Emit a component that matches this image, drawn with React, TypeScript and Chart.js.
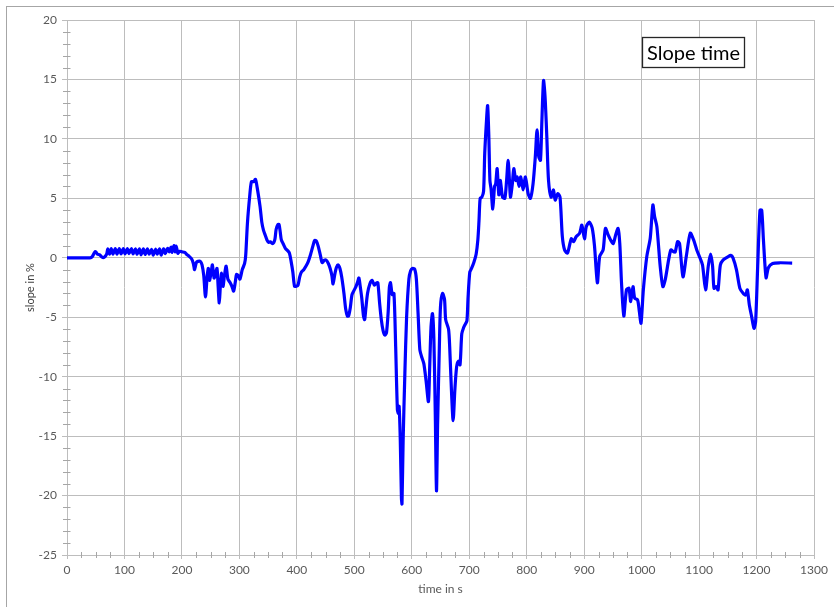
import React, { useEffect, useRef } from 'react';
import { Chart, registerables } from 'chart.js';

Chart.register(...registerables);

const chartTitle = 'Slope time';
const xAxisTitle = 'time in s';
const yAxisTitle = 'slope in %';

const xMin = 0;
const xMax = 1300;
const xStep = 100;
const yMin = -25;
const yMax = 20;
const yStep = 5;

const timeS = [
  0, 40, 44, 48, 50, 53, 57, 61, 65, 69,
  71, 74, 77, 80, 84, 87, 91, 94, 98, 101,
  105, 108, 112, 115, 119, 122, 126, 129, 133, 136,
  140, 143, 147, 150, 154, 157, 161, 164, 168, 171,
  175, 178, 181, 183, 186, 188, 190, 193, 196, 200,
  205, 208, 213, 217, 220, 222, 225, 228, 232, 235,
  238, 241, 244, 246, 248, 251, 253, 256, 258, 261,
  263, 265, 267, 269, 271.5, 274, 277, 280, 284, 287,
  290, 293, 295, 298, 301, 305, 309, 311, 314, 318,
  321, 325, 328, 331, 336, 339, 342, 345, 348, 351,
  354, 357, 360, 362, 364, 367, 369, 371, 373, 376,
  380, 384, 387, 390, 393, 396, 399, 402, 405, 408,
  412, 416, 420, 424, 428, 431, 434, 437, 441, 444,
  448, 451, 455, 458, 461, 463, 466, 469, 472, 475,
  478, 482, 485, 488, 490, 493, 496, 500, 503, 506,
  508, 510, 513, 516, 518, 520, 523, 527, 531, 535,
  539, 541, 544, 547, 550, 553, 556, 559, 561, 563,
  566, 569, 572, 575, 577, 578, 580, 582, 583, 585,
  588, 591, 595, 598, 601, 605, 608, 611, 614, 617,
  621, 625, 629, 631, 633.5, 636, 638.5, 641, 643, 645,
  648, 650, 653.5, 657, 659, 664, 666, 669, 672, 675,
  678, 681, 684, 687, 690, 693, 696, 698, 701, 704,
  708, 712, 715, 717, 719, 722, 725, 727, 730, 732,
  734, 736, 738, 741, 744, 746, 748.6, 751.5, 754, 756,
  758, 762, 765, 767.7, 770, 771.7, 775, 777.5, 781, 783.4,
  786.8, 789.7, 793.8, 797.8, 802.5, 806.5, 811, 815, 818, 821,
  824, 826.5, 829.3, 832, 835, 838, 842.5, 846.6, 849.5, 854,
  858, 862, 866, 871, 877.6, 881.6, 886, 892, 896, 900.6,
  903.6, 909, 914, 918, 923, 927, 933, 937, 942, 946,
  950.6, 954.7, 959, 962, 965, 969, 973.6, 978, 981, 985,
  988, 993, 996, 999, 1003, 1009, 1015, 1019.6, 1022.6, 1026.6,
  1032.4, 1037, 1041, 1047, 1051, 1055.6, 1058.5, 1062.6, 1066, 1072,
  1077.7, 1084.7, 1090.5, 1096, 1101.5, 1106, 1111.3, 1116, 1120, 1123.5,
  1126, 1130, 1133, 1137, 1142, 1150.7, 1155, 1159, 1165, 1171,
  1177, 1181, 1184, 1187.5, 1191.5, 1195.6, 1198.4, 1202, 1206, 1209,
  1212, 1216.6, 1220.6, 1228, 1241, 1262,
];

const slopePct = [
  0, 0, 0.1, 0.45, 0.5, 0.3, 0.25, 0.05, 0.05, 0.3,
  0.75, 0.3, 0.78, 0.3, 0.78, 0.3, 0.78, 0.32, 0.78, 0.32,
  0.78, 0.35, 0.78, 0.32, 0.75, 0.3, 0.75, 0.25, 0.75, 0.28,
  0.75, 0.3, 0.72, 0.22, 0.72, 0.3, 0.75, 0.22, 0.75, 0.35,
  0.78, 0.5, 0.9, 0.45, 1.02, 0.5, 0.98, 0.38, 0.55, 0.5,
  0.45, 0.3, 0.1, -0.1, -0.5, -1.0, -0.4, -0.3, -0.3, -0.6,
  -1.5, -3.3, -1.5, -0.9, -1.9, -1.2, -0.6, -1.7, -1.4, -0.9,
  -2.4, -3.8, -2.3, -1.3, -2.4, -1.5, -0.7, -1.8, -2.1, -2.4,
  -2.8, -2.0, -1.4, -1.5, -1.8, -1.0, -0.5, 0.2, 2.9, 5.2,
  6.4, 6.4, 6.6, 5.9, 4.3, 3.0, 2.3, 1.9, 1.5, 1.3,
  1.35, 1.2, 1.3, 1.6, 2.4, 2.8, 2.8, 2.2, 1.5, 1.2,
  0.8, 0.6, 0.4, -0.3, -1.2, -2.4, -2.4, -2.3, -1.6, -1.2,
  -1.0, -0.7, -0.3, 0.3, 1.0, 1.45, 1.4, 1.0, 0.2, -0.4,
  -0.2, -0.2, -0.5, -0.9, -1.5, -2.2, -1.4, -0.8, -0.6, -0.9,
  -1.6, -3.0, -4.3, -4.9, -4.9, -4.2, -3.1, -2.7, -2.4, -2.0,
  -1.7, -2.3, -3.4, -4.9, -5.2, -4.3, -3.0, -2.2, -1.9, -2.3,
  -2.1, -2.1, -3.8, -5.2, -6.1, -6.5, -6.3, -4.5, -2.5, -2.1,
  -3.1, -3.0, -7.5, -12.8, -13.1, -12.5, -15.3, -20.2, -20.7, -15.3,
  -9.7, -5.0, -1.8, -1.1, -0.9, -0.95, -1.8, -4.7, -7.7, -8.3,
  -8.9, -10.4, -12.1, -9.5, -5.8, -4.7, -6.9, -13.4, -19.6, -13.9,
  -7.5, -4.1, -3.0, -3.5, -5.2, -6.0, -7.5, -11.1, -13.7, -11.1,
  -9.2, -8.7, -9.0, -6.4, -5.9, -5.6, -5.3, -3.3, -1.2, -0.9,
  -0.4, 0.3, 1.5, 3.1, 5.0, 5.1, 5.6, 8.8, 11.5, 12.8,
  10.4, 6.5, 5.8, 4.1, 6.0, 6.2, 7.5, 5.3, 6.5, 5.8,
  5.1, 5.0, 6.5, 8.2, 6.5, 5.1, 6.2, 7.5, 6.5, 6.8,
  6.0, 6.8, 5.7, 6.8, 5.4, 5.0, 6.2, 8.5, 10.75, 8.5,
  8.2, 11.6, 14.9, 13.5, 10.2, 6.5, 5.1, 5.7, 4.85, 5.4,
  5.1, 1.8, 0.65, 0.4, 1.6, 1.35, 1.77, 2.05, 2.75, 1.6,
  2.6, 3.0, 2.5, 1.0, -2.1, 0.1, 0.66, 2.47, 1.9, 1.5,
  1.2, 1.9, 2.47, 1.2, -2.1, -4.9, -2.7, -2.57, -3.68, -2.43,
  -3.4, -3.55, -4.5, -5.5, -2.7, 0.1, 1.64, 4.44, 3.46, 2.6,
  -0.75, -2.43, -1.87, -0.18, 0.66, 0.5, 0.5, 1.36, 1.2, -1.6,
  0.1, 2.07, 1.5, 0.66, 0, -0.6, -2.7, -0.7, 0.3, -0.7,
  -2.57, -2.43, -2.7, -0.6, -0.18, 0.1, 0.2, 0.0, -1.0, -2.57,
  -3.0, -3.14, -2.7, -3.97, -4.95, -5.93, -5.37, -0.7, 4.0, 4.0,
  1.5, -1.68, -0.84, -0.48, -0.42, -0.45,
];

const FONT = 'Lato, "Open Sans", sans-serif';
const GRID = '#bdbdbd';
const TEXT = '#595959';

const decorPlugin = {
  id: 'decor',
  beforeDraw(chart: any) {
    const ctx = chart.ctx;
    ctx.save();
    ctx.fillStyle = '#ffffff';
    ctx.fillRect(0, 0, chart.width, chart.height);
    ctx.strokeStyle = '#a6a6a6';
    ctx.lineWidth = 1;
    ctx.strokeRect(6.5, 6.5, chart.width + 20, chart.height + 20);
    ctx.restore();
  },
  afterDraw(chart: any) {
    const ctx = chart.ctx;
    const { left, bottom } = chart.chartArea;
    const xs = chart.scales.x;
    const ys = chart.scales.y;
    ctx.save();
    ctx.strokeStyle = '#a6a6a6';
    ctx.lineWidth = 1;
    ctx.beginPath();
    for (let v = yMin; v <= yMax; v += 1) {
      if (v % yStep === 0) continue;
      const py = Math.round(ys.getPixelForValue(v)) + 0.5;
      ctx.moveTo(left - 4, py);
      ctx.lineTo(left + 3.5, py);
    }
    for (let t = xMin; t <= xMax; t += 25) {
      if (t % xStep === 0) continue;
      const px = Math.round(xs.getPixelForValue(t)) + 0.5;
      ctx.moveTo(px, bottom - 3);
      ctx.lineTo(px, bottom + 3);
    }
    ctx.stroke();

    // title box
    const bx = 642.5, by = 37.5, bw = 102, bh = 30;
    ctx.fillStyle = '#ffffff';
    ctx.fillRect(bx, by, bw, bh);
    ctx.strokeStyle = '#262626';
    ctx.lineWidth = 1.3;
    ctx.strokeRect(bx, by, bw, bh);
    ctx.fillStyle = '#000000';
    ctx.font = '20px ' + FONT;
    ctx.textAlign = 'center';
    ctx.textBaseline = 'middle';
    ctx.fillText(chartTitle, bx + bw / 2, by + bh / 2 + 1);
    ctx.restore();
  },
};

export default function App() {
  const ref = useRef<HTMLCanvasElement>(null);
  useEffect(() => {
    const canvas = ref.current as HTMLCanvasElement;
    const points = timeS.map((t, i) => ({ x: t, y: slopePct[i] }));
    const chart = new Chart(canvas, {
      type: 'line',
      data: {
        datasets: [
          {
            label: chartTitle,
            data: points,
            borderColor: '#0000ff',
            backgroundColor: '#0000ff',
            borderWidth: 3.2,
            pointRadius: 0,
            tension: 0.25,
            fill: false,
          },
        ],
      },
      options: {
        responsive: false,
        animation: false,
        devicePixelRatio: 1,
        layout: { padding: { left: 0, top: 20, right: 20, bottom: 0 } },
        plugins: {
          legend: { display: false },
          tooltip: { enabled: false },
          title: { display: false },
        },
        scales: {
          x: {
            type: 'linear',
            min: xMin,
            max: xMax,
            afterFit: (s: any) => {
              s.height = 52;
            },
            ticks: {
              stepSize: xStep,
              color: TEXT,
              font: { family: FONT, size: 12 },
              padding: 4,
              maxRotation: 0,
              callback: (v: any) => String(v),
            },
            grid: { color: GRID, lineWidth: 1, tickLength: 4, tickColor: GRID },
            border: { color: GRID, width: 1 },
            title: {
              display: true,
              text: xAxisTitle,
              color: TEXT,
              font: { family: FONT, size: 12 },
              padding: { top: 0, bottom: 11 },
            },
          },
          y: {
            type: 'linear',
            min: yMin,
            max: yMax,
            afterFit: (s: any) => {
              s.width = 67;
            },
            ticks: {
              stepSize: yStep,
              color: TEXT,
              font: { family: FONT, size: 12 },
              padding: 5,
              callback: (v: any) => String(v),
            },
            grid: { color: GRID, lineWidth: 1, tickLength: 5, tickColor: GRID },
            border: { color: GRID, width: 1 },
            title: {
              display: true,
              text: yAxisTitle,
              color: '#404040',
              font: { family: FONT, size: 11 },
              padding: { top: 24, bottom: 0 },
            },
          },
        },
      },
      plugins: [decorPlugin],
    });
    return () => chart.destroy();
  }, []);
  return (
    <div style={{ position: 'fixed', left: 0, top: 0, width: 834, height: 607, background: '#fff' }}>
      <canvas ref={ref} width={834} height={607} style={{ display: 'block' }} />
    </div>
  );
}
